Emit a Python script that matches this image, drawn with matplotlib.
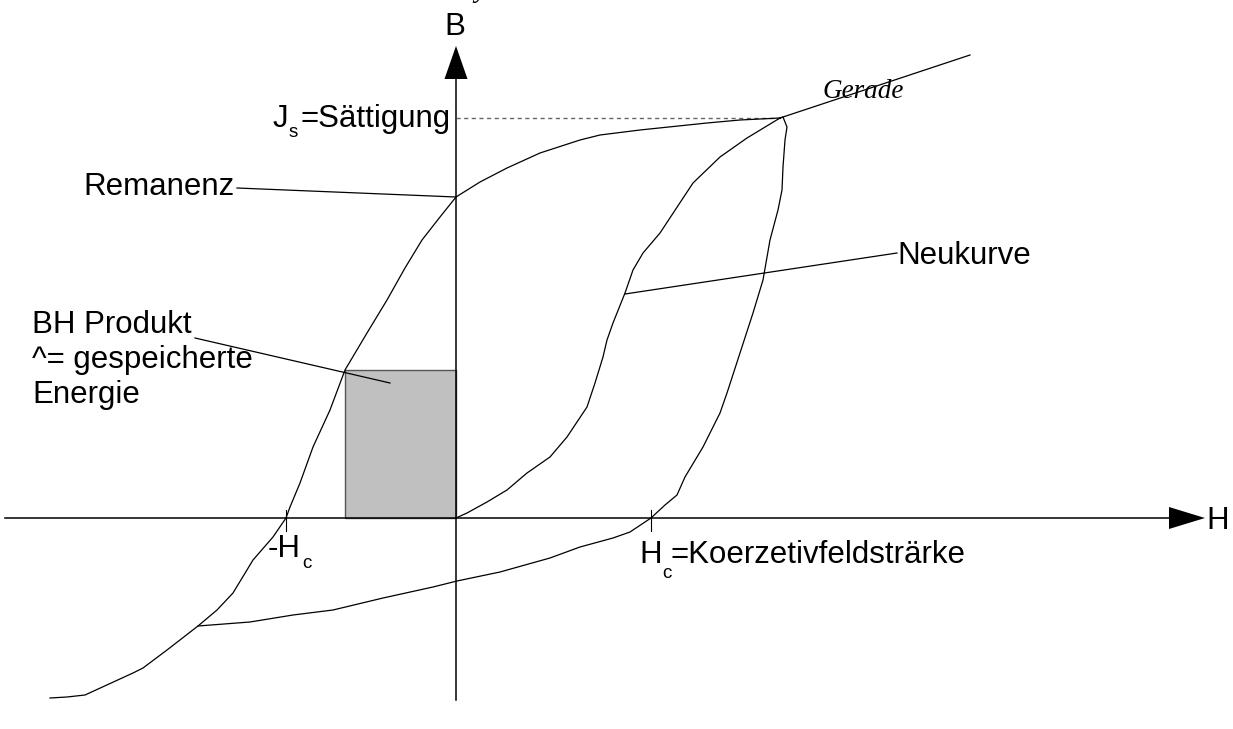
import matplotlib
matplotlib.use('Agg')
import matplotlib.pyplot as plt
from matplotlib.patches import Rectangle

# hysteresis loop (H to the right, B up, origin at axis crossing)
upper_H = [324, 284, 251, 184, 144, 124, 84, 51, 24, 0, -16, -34, -51, -69, -89, -111,
           -126, -143, -156, -166, -170, -183, -203, -223, -239, -258, -289, -313, -323,
           -371, -389, -406]
upper_B = [400, 398, 395, 388, 383, 378, 365, 350, 336, 321, 301, 278, 250, 218, 185, 148,
           108, 71, 35, 11, 0, -19, -42, -75, -92, -108, -132, -150, -155, -177, -179, -180]

lower_H = [-258, -206, -163, -123, -73, -23, 1, 44, 94, 124, 157, 174, 195, 209, 221, 229,
           247, 264, 271, 284, 297, 307, 314, 322, 326, 327, 329, 331, 327, 324]
lower_B = [-108, -104, -97, -92, -80, -69, -63, -54, -40, -29, -20, -14, 0, 13, 23, 41,
           71, 105, 125, 165, 205, 238, 278, 308, 328, 351, 378, 391, 401, 400]

neu_H = [0, 11, 31, 51, 71, 94, 111, 131, 139, 147, 151, 157, 169, 177, 187, 204, 237, 264, 291, 324]
neu_B = [0, 5, 16, 28, 45, 61, 81, 111, 135, 161, 178, 195, 225, 248, 265, 285, 335, 361, 380, 400]

gerade_H = [324, 514]
gerade_B = [400, 463]

Js = 400
Hc = 195
mHc = -170
bh_H = -111
bh_B = 148

fig = plt.figure(figsize=(12.33, 7.29), dpi=100)
ax = fig.add_axes([0, 0, 1, 1])
ax.set_xlim(-456, 777)
ax.set_ylim(-211, 518)
ax.axis('off')

sans = 'Liberation Sans'
fs = 22.5
sub = 13.5

# axes with arrow heads
ax.plot([-451, 715], [0, 0], color='black', lw=1.1)
ax.fill([713, 749, 713], [-11, 0, 11], color='black', lw=0)
ax.plot([0, 0], [-182, 441], color='black', lw=1.1)
ax.fill([-11.5, 0, 11.5], [439, 472, 439], color='black', lw=0)
ax.text(-1, 483, 'B', fontsize=fs, family=sans, ha='center', va='baseline')
ax.text(750, -11, 'H', fontsize=fs, family=sans, ha='left', va='baseline')
ax.text(18, 521, 'y', fontsize=20, family='Liberation Serif', style='italic', va='baseline')

# BH product rectangle
ax.add_patch(Rectangle((bh_H, 0), -bh_H, bh_B, facecolor='#c0c0c0', edgecolor='#555555', lw=1.0, zorder=1))

# curves
ax.plot(upper_H, upper_B, color='black', lw=0.9, zorder=3)
ax.plot(lower_H, lower_B, color='black', lw=0.9, zorder=3)
ax.plot(neu_H, neu_B, color='black', lw=0.9, zorder=3)
ax.plot(gerade_H, gerade_B, color='black', lw=0.9, zorder=3)
ax.plot([0, 324], [Js, Js], color='#666666', lw=1.0, ls=(0, (3, 2.5)), zorder=2)

# ticks at coercive field
ax.plot([mHc, mHc], [8, -13], color='black', lw=0.8)
ax.plot([Hc, Hc], [8, -13], color='black', lw=0.8)

# pointer lines
ax.plot([-219, 0], [330, 321], color='black', lw=0.9)
ax.plot([-261, -66], [180, 135], color='black', lw=0.9)
ax.plot([441, 169], [265, 224], color='black', lw=0.9)

# labels
ax.text(366, 420, 'Gerade', fontsize=19.5, family='Liberation Serif', style='italic', va='baseline')
ax.text(-183, 391, 'J', fontsize=fs, family=sans, va='baseline')
ax.text(-167, 381, 's', fontsize=sub, family=sans, va='baseline')
ax.text(-156, 391, '=Sättigung', fontsize=fs, family=sans, va='baseline')
ax.text(-221, 323, 'Remanenz', fontsize=fs, family=sans, ha='right', va='baseline')
ax.text(441, 254, 'Neukurve', fontsize=fs, family=sans, va='baseline')
ax.text(-424, 185, 'BH Produkt', fontsize=fs, family=sans, va='baseline')
ax.text(-424, 150, '^= gespeicherte', fontsize=fs, family=sans, va='baseline')
ax.text(-424, 115, 'Energie', fontsize=fs, family=sans, va='baseline')
ax.text(-188, -39, '-H', fontsize=fs, family=sans, va='baseline')
ax.text(-154, -50, 'c', fontsize=sub, family=sans, va='baseline')
ax.text(183, -45, 'H', fontsize=fs, family=sans, va='baseline')
ax.text(206, -60, 'c', fontsize=sub, family=sans, va='baseline')
ax.text(214, -45, '=Koerzetivfeldsträrke', fontsize=fs, family=sans, va='baseline')

fig.savefig('out.png', dpi=100)
